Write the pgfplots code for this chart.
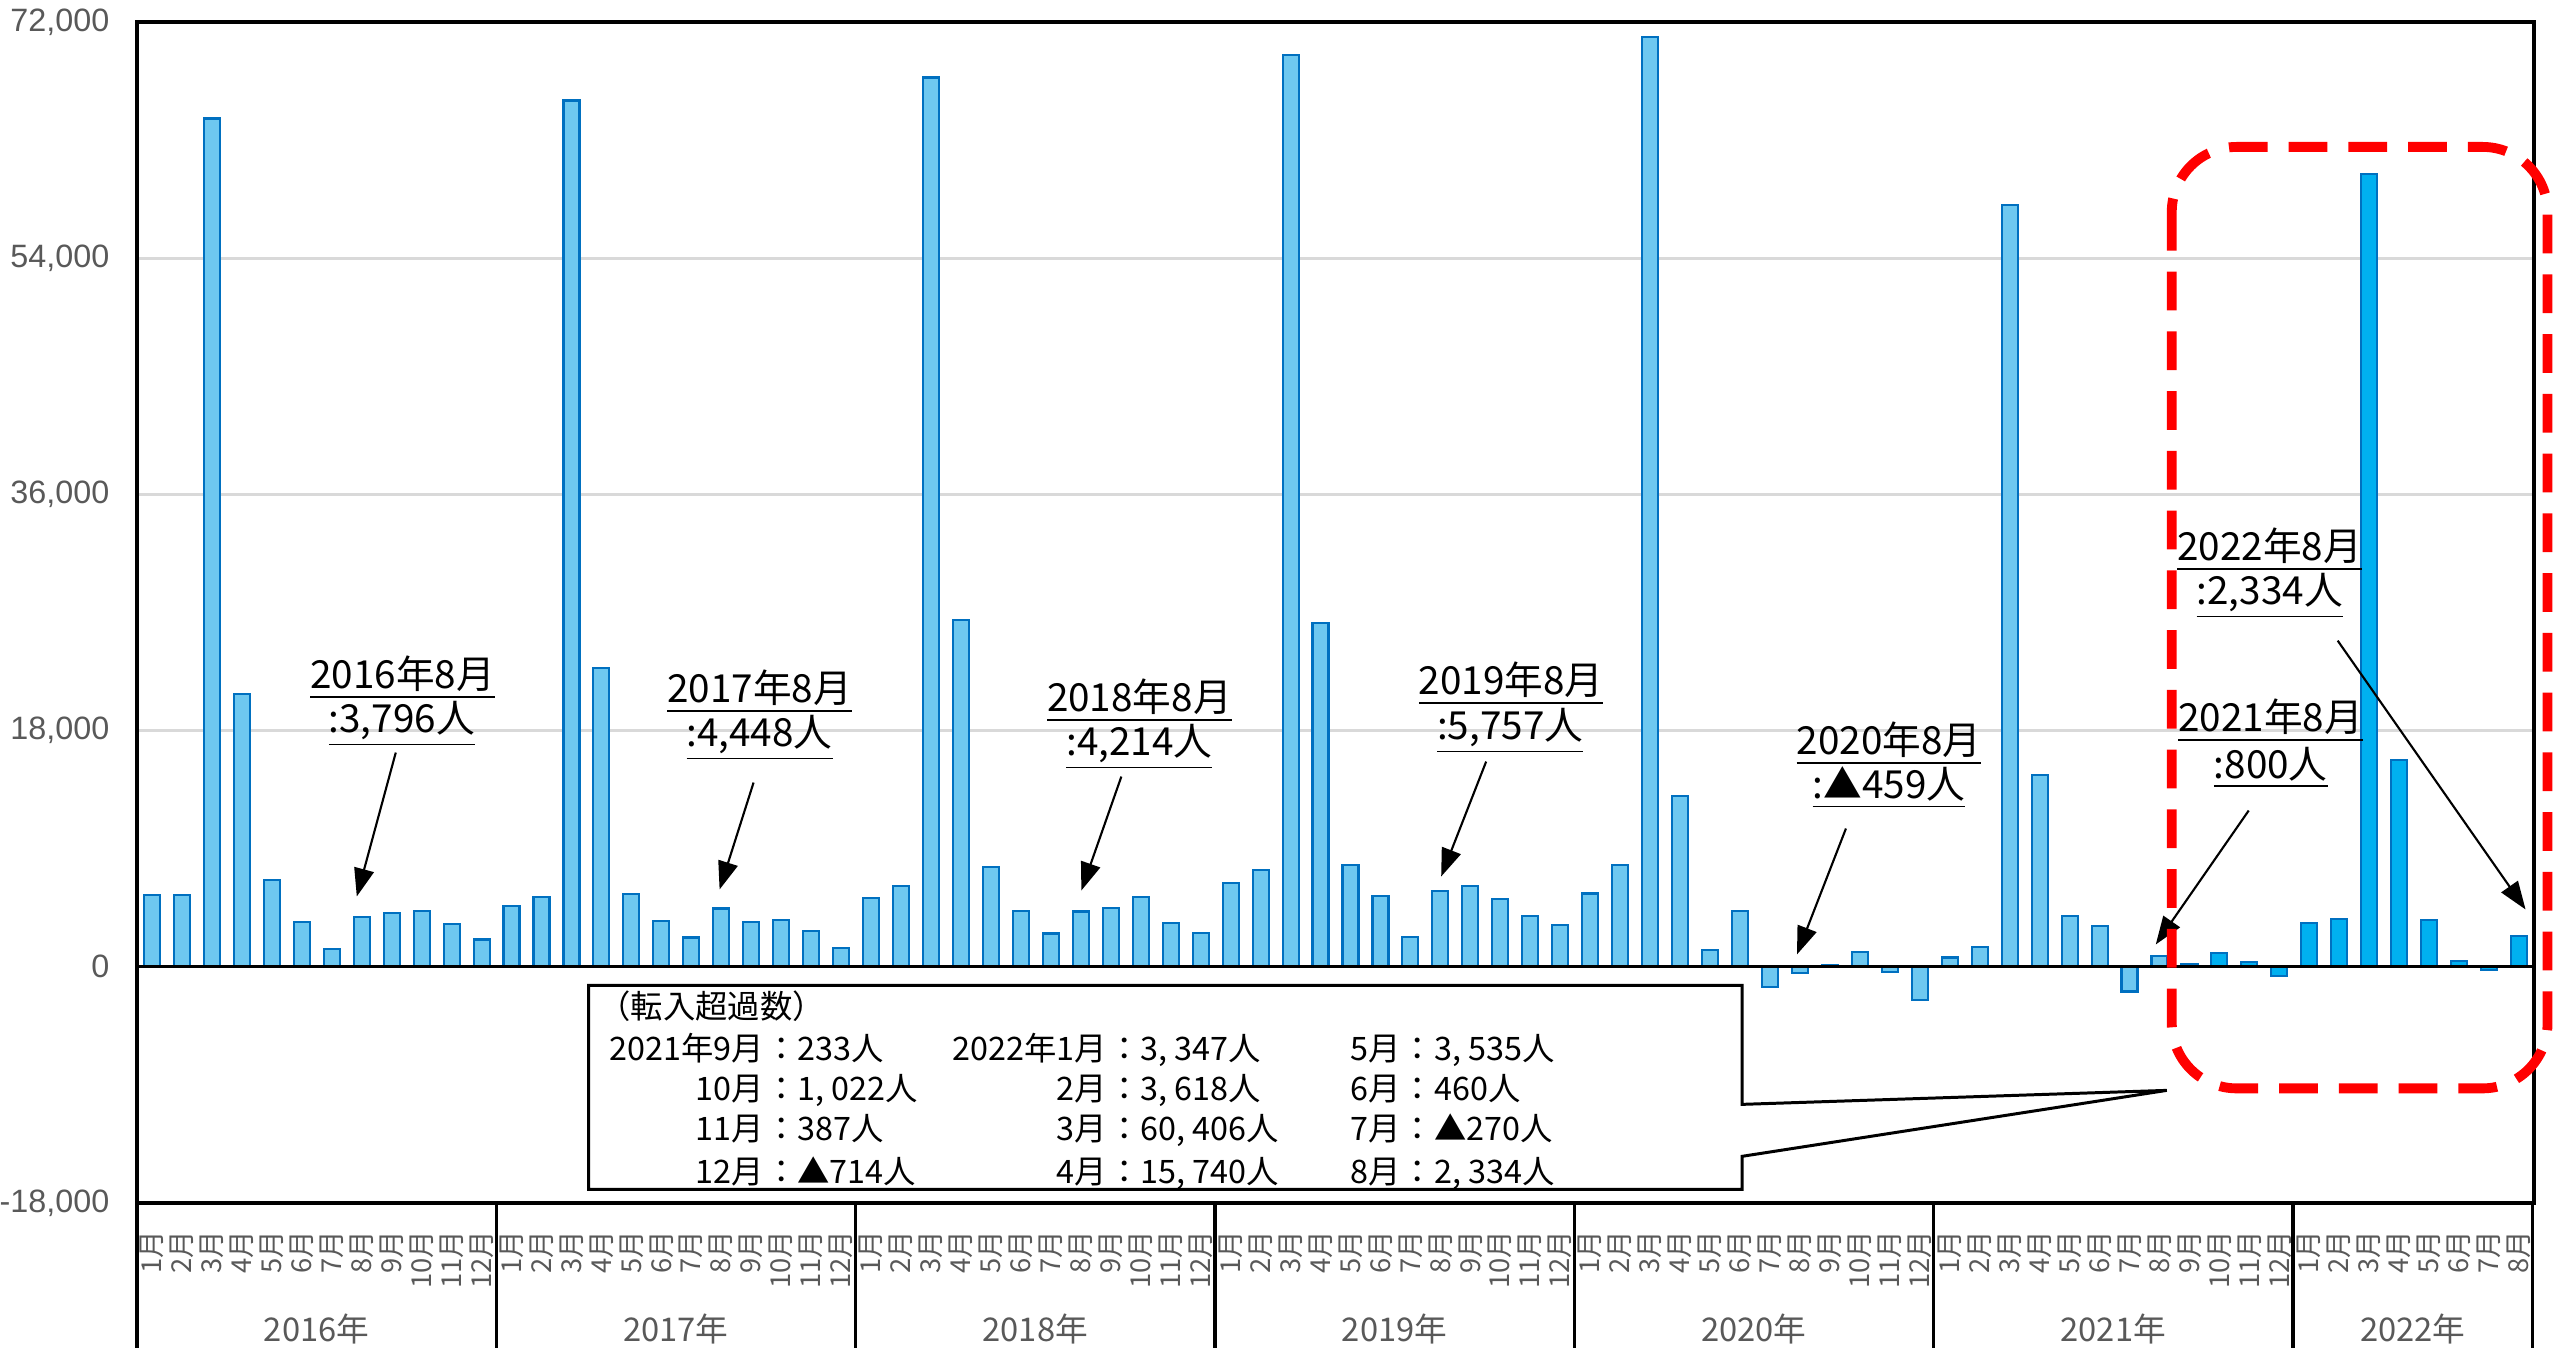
\documentclass[border=0pt]{standalone}
\usepackage{pgfplots}
\pgfplotsset{compat=1.18}
\usetikzlibrary{arrows.meta}
\usepackage{fontspec}
\setmainfont{Liberation Sans}
\newfontfamily\jp{Noto Sans CJK JP}
\definecolor{barold}{RGB}{110,200,240}
\definecolor{barnew}{RGB}{0,176,240}
\definecolor{baredge}{RGB}{0,112,192}
\definecolor{tickgray}{RGB}{89,89,89}
\definecolor{gridgray}{RGB}{217,217,217}
\begin{document}
\begin{tikzpicture}
\useasboundingbox (0,0) rectangle (25.64,13.47);
\begin{axis}[
  at={(1.37cm,1.44cm)}, anchor=south west,
  scale only axis, width=23.97cm, height=11.81cm,
  xmin=-0.5, xmax=79.5, ymin=-18000, ymax=72000,
  ytick={-18000,0,18000,36000,54000,72000},
  scaled y ticks=false,
  ymajorgrids, grid style={gridgray, line width=0.8pt},
  axis line style={black, line width=0.9pt},
  major tick length=0pt,
  yticklabel style={font=\fontsize{9.2}{10}\selectfont, text=tickgray, inner sep=0pt, xshift=-0.27cm},
  /pgf/number format/1000 sep={,},
  /pgf/number format/assume math mode=true,
  xtick={0,...,79},
  xticklabels={1月,2月,3月,4月,5月,6月,7月,8月,9月,10月,11月,12月,
               1月,2月,3月,4月,5月,6月,7月,8月,9月,10月,11月,12月,
               1月,2月,3月,4月,5月,6月,7月,8月,9月,10月,11月,12月,
               1月,2月,3月,4月,5月,6月,7月,8月,9月,10月,11月,12月,
               1月,2月,3月,4月,5月,6月,7月,8月,9月,10月,11月,12月,
               1月,2月,3月,4月,5月,6月,7月,8月,9月,10月,11月,12月,
               1月,2月,3月,4月,5月,6月,7月,8月},
  xticklabel style={rotate=90, anchor=east, font=\jp\fontsize{7.8}{8}\selectfont, text=tickgray, inner sep=0pt},
  xticklabel shift=0.27cm,
  ybar, bar width=0.16cm,
  clip=false,
]
\addplot[bar shift=0pt, fill=barold, draw=baredge, line width=0.6pt] coordinates {
(0,5450) (1,5450) (2,64650) (3,20800) (4,6590) (5,3420) (6,1390) (7,3796) (8,4107) (9,4260) (10,3245) (11,2080)
(12,4610) (13,5320) (14,66020) (15,22780) (16,5530) (17,3500) (18,2230) (19,4448) (20,3420) (21,3600) (22,2710) (23,1445)
(24,5250) (25,6135) (26,67770) (27,26410) (28,7600) (29,4260) (30,2535) (31,4214) (32,4450) (33,5340) (34,3355) (35,2590)
(36,6355) (37,7370) (38,69510) (39,26170) (40,7750) (41,5390) (42,2240) (43,5757) (44,6180) (45,5135) (46,3890) (47,3180)
(48,5590) (49,7750) (50,70880) (51,13000) (52,1270) (53,4245) (54,-1525) (55,-459) (56,120) (57,1145) (58,-380) (59,-2550)
(60,710) (61,1525) (62,58050) (63,14600) (64,3890) (65,3100) (66,-1880) (67,800)
};
\addplot[bar shift=0pt, fill=barnew, draw=baredge, line width=0.6pt] coordinates {
(68,233) (69,1022) (70,387) (71,-714)
(72,3347) (73,3618) (74,60406) (75,15740) (76,3535) (77,460) (78,-270) (79,2334)
};
\draw[black, line width=0.9pt] (axis cs:-0.5,0) -- (axis cs:79.5,0);
\end{axis}
\begin{scope}[yshift=13.47cm, x=0.01cm, y=-0.01cm]
  % category separators
  \foreach \X in {137,496.6,856.1,1215.7,1575.2,1934.8,2294.3,2534}
    \draw[line width=0.9pt] (\X,1203) -- (\X,1360);
  \foreach \X/\Y in {316.8/2016,676.3/2017,1035.9/2018,1395.4/2019,1755/2020,2114.5/2021,2414/2022}
    \node[text=tickgray, font=\jp\fontsize{9.3}{10}\selectfont, inner sep=0pt] at (\X,1330) {\Y{}年};
  % annotations
  \tikzset{ann/.style={font=\jp\fontsize{11}{12}\selectfont, inner sep=0pt},
           arr/.style={-{Triangle[length=0.28cm,width=0.2cm]}, line width=0.6pt}}
  \node[ann] at (403,678) {\underline{2016年8月}};
  \node[ann] at (402,724) {\underline{:3,796人}};
  \draw[arr] (396,753) -- (357,897);
  \node[ann] at (760,692) {\underline{2017年8月}};
  \node[ann] at (760,738) {\underline{:4,448人}};
  \draw[arr] (754,783) -- (720,890);
  \node[ann] at (1140,701) {\underline{2018年8月}};
  \node[ann] at (1140,747) {\underline{:4,214人}};
  \draw[arr] (1122,777) -- (1082,891);
  \node[ann] at (1512,684) {\underline{2019年8月}};
  \node[ann] at (1511,731) {\underline{:5,757人}};
  \draw[arr] (1487,762) -- (1442,877);
  \node[ann] at (1890,744) {\underline{2020年8月}};
  \node[ann] at (1890,788) {\underline{:▲459人}};
  \draw[arr] (1847,829) -- (1798,955);
  \node[ann] at (2272,721) {\underline{2021年8月}};
  \node[ann] at (2272,768) {\underline{:800人}};
  \draw[arr] (2250,811) -- (2157,945);
  \node[ann] at (2271,550) {\underline{2022年8月}};
  \node[ann] at (2271,596) {\underline{:2,334人}};
  \draw[arr] (2339,641) -- (2527,910);
  % callout box
  \draw[line width=0.85pt, fill=white] (589,986) -- (1743,986) -- (1743,1105) -- (2168,1091) -- (1743,1157) -- (1743,1190) -- (589,1190) -- cycle;
  \tikzset{bx/.style={font=\jp\fontsize{9.2}{10}\selectfont, inner sep=0pt}}
  \node[bx, anchor=base west] at (598,1019) {（転入超過数）};
  \foreach \L/\R/\Y in {{2021年9月}/{：233人}/1061, {10月}/{：1, 022人}/1101, {11月}/{：387人}/1141, {12月}/{：▲714人}/1184}{
    \node[bx, anchor=base east] at (765,\Y) {\L};
    \node[bx, anchor=base west] at (765,\Y) {\R};}
  \foreach \L/\R/\Y in {{2022年1月}/{：3, 347人}/1061, {2月}/{：3, 618人}/1101, {3月}/{：60, 406人}/1141, {4月}/{：15, 740人}/1184}{
    \node[bx, anchor=base east] at (1108,\Y) {\L};
    \node[bx, anchor=base west] at (1108,\Y) {\R};}
  \foreach \L/\R/\Y in {{5月}/{：3, 535人}/1061, {6月}/{：460人}/1101, {7月}/{：▲270人}/1141, {8月}/{：2, 334人}/1184}{
    \node[bx, anchor=base east] at (1402,\Y) {\L};
    \node[bx, anchor=base west] at (1402,\Y) {\R};}
  % red dashed rounded frame
  \draw[red, line width=2.8pt, dash pattern=on 11pt off 6pt, rounded corners=0.65cm] (2173,147) rectangle (2549,1089);
\end{scope}
\end{tikzpicture}
\end{document}
